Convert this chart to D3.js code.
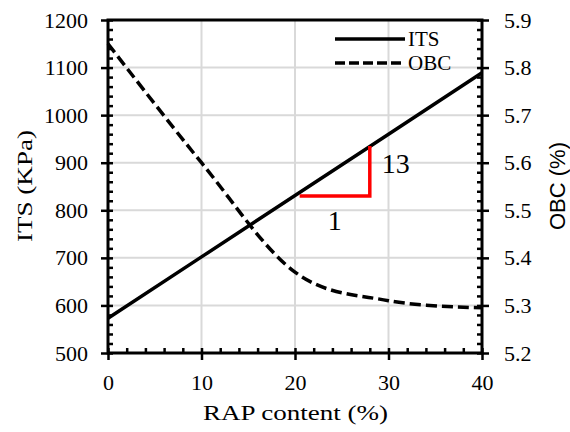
<!DOCTYPE html>
<html><head><meta charset="utf-8">
<script src="https://cdn.jsdelivr.net/npm/d3@7"></script>
<style>body{margin:0;background:#fff}svg{display:block}</style>
</head><body>
<svg id="c" width="570" height="432"></svg>
<script>
// ---- data ----
const rapContent = [0, 10, 20, 30, 40];
const itsValues = [573, 702, 831, 960, 1089];
const obcValues = [5.85, 5.60, 5.37, 5.31, 5.295];
const xTicks = [0, 10, 20, 30, 40];
const itsTicks = [500, 600, 700, 800, 900, 1000, 1100, 1200];
const obcTicks = [5.2, 5.3, 5.4, 5.5, 5.6, 5.7, 5.8, 5.9];
const seriesNames = ["ITS", "OBC"];
const slopeX = [20.5, 28];
const slopeY = [830, 935];
const slopeLabels = ["1", "13"];

const svg = d3.select("#c");
const L = 108, R = 482, T = 20, B = 353;
const x = d3.scaleLinear().domain([0, 40]).range([L, R]);
const yL = d3.scaleLinear().domain([500, 1200]).range([B, T]);
const yR = d3.scaleLinear().domain([5.2, 5.9]).range([B, T]);
const serif = "'Liberation Serif','Times New Roman',serif";
const sans = "'Liberation Sans',Arial,sans-serif";

// grid
const g = svg.append("g");
g.selectAll("line.gx").data(xTicks.slice(1, -1)).join("line")
  .attr("x1", d => x(d)).attr("x2", d => x(d)).attr("y1", T).attr("y2", B)
  .attr("stroke", "#d9d9d9").attr("stroke-width", 2);
g.selectAll("line.gy").data(itsTicks.slice(1, -1)).join("line")
  .attr("y1", d => yL(d)).attr("y2", d => yL(d)).attr("x1", L).attr("x2", R)
  .attr("stroke", "#d9d9d9").attr("stroke-width", 2);

// minor tick values
const xMinor = d3.range(0, 40.001, 2);
const yLMinor = d3.range(500, 1200.001, 20);
const yRMinor = d3.range(0, 36).map(i => 5.2 + i * 0.02).filter(v => v <= 5.9001);

function styleAxis(sel) {
  sel.select(".domain").remove();
  sel.selectAll(".tick line").attr("stroke", "#000").attr("stroke-width", 2.5);
  sel.selectAll("text").attr("font-family", serif).attr("font-size", 22).attr("fill", "#000");
}

// left axis: outer major ticks with labels
svg.append("g").attr("transform", `translate(${L},0)`)
  .call(d3.axisLeft(yL).tickValues(itsTicks).tickSize(7).tickPadding(13).tickFormat(d3.format("d")))
  .call(styleAxis);
// left inner ticks
svg.append("g").attr("transform", `translate(${L},0)`)
  .call(d3.axisRight(yL).tickValues(yLMinor).tickSize(5).tickFormat(""))
  .call(styleAxis);
// right axis
svg.append("g").attr("transform", `translate(${R},0)`)
  .call(d3.axisRight(yR).tickValues(obcTicks).tickSize(7).tickPadding(15).tickFormat(d3.format(".1f")))
  .call(styleAxis);
svg.append("g").attr("transform", `translate(${R},0)`)
  .call(d3.axisLeft(yR).tickValues(yRMinor).tickSize(5).tickFormat(""))
  .call(styleAxis);
// bottom axis
svg.append("g").attr("transform", `translate(0,${B})`)
  .call(d3.axisBottom(x).tickValues(xTicks).tickSize(7).tickPadding(14).tickFormat(d3.format("d")))
  .call(styleAxis);
svg.append("g").attr("transform", `translate(0,${B})`)
  .call(d3.axisTop(x).tickValues(xMinor).tickSize(5).tickFormat(""))
  .call(styleAxis);

// frame
svg.append("rect").attr("x", L).attr("y", T).attr("width", R - L).attr("height", B - T)
  .attr("fill", "none").attr("stroke", "#000").attr("stroke-width", 3);

// series
const itsData = rapContent.map((d, i) => [d, itsValues[i]]);
const obcData = rapContent.map((d, i) => [d, obcValues[i]]);
svg.append("path").datum(itsData)
  .attr("d", d3.line().x(d => x(d[0])).y(d => yL(d[1])))
  .attr("fill", "none").attr("stroke", "#000").attr("stroke-width", 3.5);
svg.append("path").datum(obcData)
  .attr("d", d3.line().x(d => x(d[0])).y(d => yR(d[1])).curve(d3.curveCardinal.tension(0)))
  .attr("fill", "none").attr("stroke", "#000").attr("stroke-width", 3.5).attr("stroke-dasharray", "11,5");

// slope triangle
svg.append("path")
  .attr("d", d3.line()([[x(slopeX[0]), yL(slopeY[0])], [x(slopeX[1]), yL(slopeY[0])], [x(slopeX[1]), yL(slopeY[1])]]))
  .attr("fill", "none").attr("stroke", "#ff0000").attr("stroke-width", 3.5).attr("stroke-linejoin", "miter");
svg.append("text").attr("x", (x(slopeX[0]) + x(slopeX[1])) / 2).attr("y", yL(slopeY[0]) + 34)
  .attr("text-anchor", "middle").attr("font-family", serif).attr("font-size", 28).text(slopeLabels[0]);
svg.append("text").attr("x", x(slopeX[1]) + 12).attr("y", yL(slopeY[0]) - 23)
  .attr("font-family", serif).attr("font-size", 28).text(slopeLabels[1]);

// legend
const leg = svg.append("g");
seriesNames.forEach((n, i) => {
  const yy = 39 + i * 24;
  leg.append("line").attr("x1", 335).attr("x2", 405).attr("y1", yy).attr("y2", yy)
    .attr("stroke", "#000").attr("stroke-width", 3.5)
    .attr("stroke-dasharray", i === 1 ? "10,4" : null);
  leg.append("text").attr("x", 408).attr("y", yy).attr("dy", "0.35em")
    .attr("font-family", serif).attr("font-size", 21).text(n);
});

// axis titles
svg.append("text").attr("transform", `translate(32,186) rotate(-90)`)
  .attr("text-anchor", "middle").attr("font-family", serif).attr("font-size", 22)
  .attr("textLength", 112).attr("lengthAdjust", "spacingAndGlyphs").text("ITS (KPa)");
svg.append("text").attr("transform", `translate(565,186) rotate(-90)`)
  .attr("text-anchor", "middle").attr("font-family", sans).attr("font-size", 22)
  .text("OBC (%)");
svg.append("text").attr("x", 295.5).attr("y", 420)
  .attr("text-anchor", "middle").attr("font-family", serif).attr("font-size", 22)
  .attr("textLength", 185).attr("lengthAdjust", "spacingAndGlyphs").text("RAP content (%)");
</script>
</body></html>
